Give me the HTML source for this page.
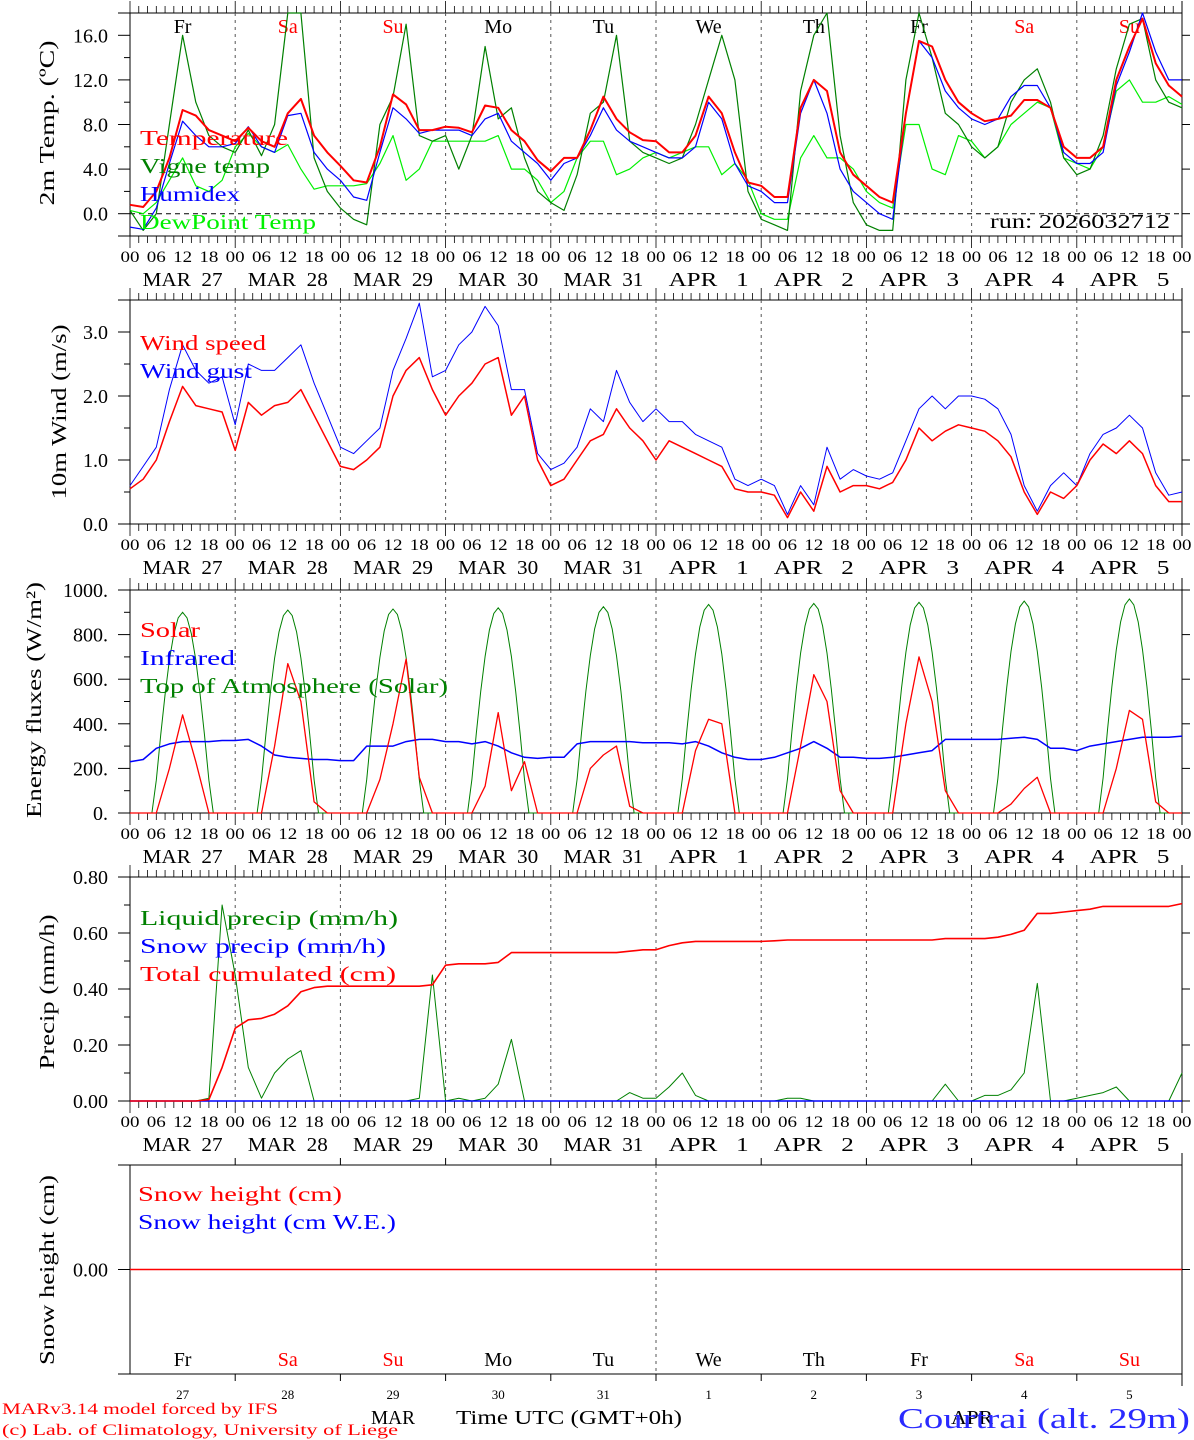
<!DOCTYPE html>
<html><head><meta charset="utf-8"><style>
html,body{margin:0;padding:0;background:#fff;}
svg{display:block;font-family:"Liberation Serif",serif;}
text{white-space:pre;}
</style></head><body>
<svg id="chart" width="1194" height="1440" viewBox="0 0 1194 1440" xmlns="http://www.w3.org/2000/svg" xml:space="preserve"></svg>
<script>
// ---- data (3-hourly, from MAR 27 00 UTC to APR 6 00 UTC, 81 values) ----
const dayLabels = ["MAR  27","MAR  28","MAR  29","MAR  30","MAR  31","APR   1","APR   2","APR   3","APR   4","APR   5"];
const dayNames = ["Fr","Sa","Su","Mo","Tu","We","Th","Fr","Sa","Su"];
const dayNums = ["27","28","29","30","31","1","2","3","4","5"];
const hourTicks = ["00","06","12","18"];

const temperature = [0.8,0.6,2,5,9.3,8.8,7.5,7, 6.5,7.7,6.5,6,9,10.3,7,5.5, 4.3,3,2.8,6,10.7,9.8,7.5,7.5, 7.8,7.7,7.3,9.7,9.5,7.5,6.5,4.8, 3.8,5,5,7.5,10.5,8.5,7.3,6.6, 6.5,5.5,5.5,7,10.5,9,5.5,2.8, 2.5,1.5,1.5,9.5,12,11,5.5,3.5, 2.5,1.5,1,9,15.5,15,12,10, 9,8.3,8.5,8.8,10.2,10.2,9.5,6, 5,5,6,12,15,17.5,13.5,11.5,10.5];
const vigneTemp = [0.3,-1.5,0,8,16,10,7,6, 5.5,7.5,5.2,8,18,18,5,2, 0.5,-0.5,-1,8,10.5,17,7,6.5, 7,4,7,15,8.5,9.5,5,2, 1,0.3,3.5,9,10,16,6.5,5.5, 5,4.5,5,8,12,16,12,2, -0.5,-1,-1.5,11,16,18,7,1, -1,-1.5,-1.5,12,18,14,9,8, 6,5,6,10,12,13,10,5, 3.5,4,7,13,17,17.5,12,10,9.5];
const humidex = [-1.2,-1.4,0.5,4.5,8.3,7,6,6, 6.3,7.8,6,5.5,8.8,9,5.5,4, 3,1.5,1.2,5.5,9.5,8.5,7.2,7.5, 7.5,7.5,7,8.5,9,6.5,5.5,4.5, 3,4.5,5,7,9.5,7.5,6.5,6, 5.5,5,5,6,10,8.5,4.5,2.5, 2,1,1,9,12,9,4,2, 1,0,-0.5,9,15.5,14,11,9.5, 8.5,8,8.5,10.5,11.5,11.5,9.5,5.5, 4.5,4.5,5.5,11.5,14.5,18,14.5,12,12];
const dewPoint = [0.3,0,1,3,5,2.5,2,3, 6,7.2,6,5.5,6.2,4,2.2,2.5, 2.5,2.5,2.7,4.5,7,3,4,6.5, 6.5,6.5,6.5,6.5,7,4,4,3, 1,2,5,6.5,6.5,3.5,4,5, 5.5,5,5.5,6,6,3.5,4.5,3, 0,-0.5,-0.5,5,7,5,5,4, 2,1,0.5,8,8,4,3.5,7, 6.5,5,6,8,9,10,9.5,5, 4.5,4,6,11,12,10,10,10.5,9.8];

const windSpeed = [0.55,0.7,1.0,1.6,2.15,1.85,1.8,1.75, 1.15,1.9,1.7,1.85,1.9,2.1,1.7,1.3, 0.9,0.85,1.0,1.2,2.0,2.4,2.6,2.1, 1.7,2.0,2.2,2.5,2.6,1.7,2.0,1.0, 0.6,0.7,1.0,1.3,1.4,1.8,1.5,1.3, 1.0,1.3,1.2,1.1,1.0,0.9,0.55,0.5, 0.5,0.45,0.1,0.5,0.2,0.9,0.5,0.6, 0.6,0.55,0.65,1.0,1.5,1.3,1.45,1.55, 1.5,1.45,1.3,1.05,0.5,0.15,0.5,0.4, 0.6,1.0,1.25,1.1,1.3,1.1,0.6,0.35,0.35];
const windGust = [0.6,0.9,1.2,2.1,2.8,2.4,2.2,2.3, 1.55,2.5,2.4,2.4,2.6,2.8,2.2,1.7, 1.2,1.1,1.3,1.5,2.4,2.9,3.45,2.3, 2.4,2.8,3.0,3.4,3.1,2.1,2.1,1.1, 0.85,0.95,1.2,1.8,1.6,2.4,1.9,1.6, 1.8,1.6,1.6,1.4,1.3,1.2,0.7,0.6, 0.7,0.6,0.15,0.6,0.3,1.2,0.7,0.85, 0.75,0.7,0.8,1.3,1.8,2.0,1.8,2.0, 2.0,1.95,1.8,1.4,0.6,0.2,0.6,0.8, 0.6,1.1,1.4,1.5,1.7,1.5,0.8,0.45,0.5];

const solar = [0,0,0,200,440,230,0,0, 0,0,0,300,670,500,50,0, 0,0,0,150,400,690,160,0, 0,0,0,120,450,100,230,0, 0,0,0,200,260,300,30,0, 0,0,0,280,420,400,0,0, 0,0,0,300,620,500,100,0, 0,0,0,400,700,500,100,0, 0,0,0,40,110,160,0,0, 0,0,0,200,460,420,50,0,0];
const infrared = [230,240,290,310,320,320,320,325, 325,330,300,260,250,245,240,240, 235,235,300,300,300,320,330,330, 320,320,310,320,300,270,250,245, 250,250,310,320,320,320,320,315, 315,315,310,320,300,270,250,240, 240,250,270,290,320,290,250,250, 245,245,250,260,270,280,330,330, 330,330,330,335,340,330,290,290, 280,300,310,320,330,340,340,340,345];
const toaPeak = [900,910,915,920,925,935,940,945,950,960];

const liquidPrecip = [0,0,0,0,0,0,0.01,0.7, 0.45,0.12,0.01,0.1,0.15,0.18,0,0, 0,0,0,0,0,0,0.01,0.45, 0,0.01,0,0.01,0.06,0.22,0,0, 0,0,0,0,0,0,0.03,0.01, 0.01,0.05,0.1,0.02,0,0,0,0, 0,0,0.01,0.01,0,0,0,0, 0,0,0,0,0,0,0.06,0, 0,0.02,0.02,0.04,0.1,0.42,0,0, 0.01,0.02,0.03,0.05,0,0,0,0,0.1];
const snowPrecip = new Array(81).fill(0);
const totalCum = [0,0,0,0,0,0,0.005,0.12, 0.26,0.29,0.295,0.31,0.34,0.39,0.405,0.41, 0.41,0.41,0.41,0.41,0.41,0.41,0.41,0.415, 0.485,0.49,0.49,0.49,0.495,0.53,0.53,0.53, 0.53,0.53,0.53,0.53,0.53,0.53,0.535,0.54, 0.54,0.555,0.565,0.57,0.57,0.57,0.57,0.57, 0.57,0.572,0.575,0.575,0.575,0.575,0.575,0.575, 0.575,0.575,0.575,0.575,0.575,0.575,0.58,0.58, 0.58,0.58,0.585,0.595,0.61,0.67,0.67,0.675, 0.68,0.685,0.695,0.695,0.695,0.695,0.695,0.695,0.705];
const snowHeight = new Array(81).fill(0);

// ---- drawing ----
const svg = document.getElementById('chart');
const NS = "http://www.w3.org/2000/svg";
const X0 = 130, X1 = 1182, NSTEP = 80;
function x(i){ return X0 + (X1 - X0) * i / NSTEP; }
function xh(h){ return X0 + (X1 - X0) * h / 240; }
function el(tag, attrs, parent){
  const e = document.createElementNS(NS, tag);
  for (const k in attrs) e.setAttribute(k, attrs[k]);
  (parent || svg).appendChild(e);
  return e;
}
function txt(xx, yy, s, size, color, anchor, len, parent){
  const t = el('text', {x:xx, y:yy, 'font-size':size, fill:color, 'text-anchor':anchor||'start'}, parent);
  if (len) { t.setAttribute('textLength', len); t.setAttribute('lengthAdjust','spacingAndGlyphs'); }
  t.textContent = s;
  return t;
}
function line(x1,y1,x2,y2,stroke,w,dash,parent){
  const l = el('line',{x1:x1,y1:y1,x2:x2,y2:y2,stroke:stroke,'stroke-width':w||1}, parent);
  if (dash) l.setAttribute('stroke-dasharray', dash);
  return l;
}
function series(vals, yf, color, w, name, parent){
  let d = '';
  vals.forEach((v,i)=>{ d += (i?'L':'M') + x(i).toFixed(1) + ',' + yf(v).toFixed(1); });
  const p = el('path',{d:d, fill:'none', stroke:color, 'stroke-width':w||1, 'stroke-linejoin':'round'}, parent);
  
  
  return p;
}

function panel(cfg){
  const g = el('g', {});
  
  
  const top = cfg.top, bot = cfg.bot;
  const yf = v => bot - (v - cfg.min) / (cfg.max - cfg.min) * (bot - top);
  line(118, top, X1, top, '#000', 1, null, g);
  line(118, bot, X1, bot, '#000', 1, null, g);
  line(X0, top, X0, bot, '#000', 1, null, g);
  line(X1, top-12, X1, bot+12, '#000', 1, null, g);
  if (cfg.hourTicks){
    for (let h=0; h<=240; h+=2){
      const xx = xh(h), len = (h%24===0)?12:7;
      line(xx, top-len, xx, top, '#000', 0.8, null, g);
      line(xx, bot, xx, bot+len, '#000', 0.8, null, g);
    }
    for (let d=1; d<10; d++) line(xh(d*24), top, xh(d*24), bot, '#555', 1, '3,4', g);
  } else {
    for (let d=1; d<10; d++){
      line(xh(d*24), top-7, xh(d*24), top, '#000', 1, null, g);
      line(xh(d*24), bot, xh(d*24), bot+7, '#000', 1, null, g);
    }
  }
  cfg.yMinor.forEach(v=>{ line(X0-6, yf(v), X0, yf(v), '#000', 1, null, g); });
  cfg.yTicks.forEach((v,i)=>{
    line(X0-12, yf(v), X0, yf(v), '#000', 1, null, g);
    line(X1, yf(v), X1+8, yf(v), '#000', 1, null, g);
    txt(108, yf(v)+7, cfg.yLabels[i], 20, '#000', 'end', null, g);
  });
  const t = txt(0,0,cfg.title,21,'#000','middle',cfg.titleLen,g);
  t.setAttribute('transform','translate('+cfg.titleX+','+cfg.titleY+') rotate(-90)');
  if (cfg.hourTicks){
    for (let h=0; h<=240; h+=6){
      txt(xh(h), bot+26, hourTicks[(h/6)%4], 16, '#000', 'middle', 19, g);
    }
    dayLabels.forEach((s,d)=>{
      txt(xh(d*24+12), bot+50, s, 20, '#000', 'middle', 80, g);
    });
  }
  return {g:g, yf:yf};
}

// Panel 1
const p1 = panel({name:'temperature-panel', top:13, bot:236, min:-2, max:18, yTicks:[0,4,8,12,16], yLabels:['0.0','4.0','8.0','12.0','16.0'], yMinor:[-2,2,6,10,14,18], title:'2m Temp. (\u00BAC)', titleX:54, titleY:123, titleLen:165, hourTicks:true});
line(X0, p1.yf(0), X1, p1.yf(0), '#000', 1, '5,4', p1.g);
dayNames.forEach((n,d)=>{
  const c = (n==='Sa'||n==='Su') ? '#f00' : '#000';
  const t = txt(xh(d*24+12), 33, n, 20, c, 'middle', null, p1.g);
  
  
});
series(dewPoint, p1.yf, '#00f000', 1.2, 'dewpoint-line', p1.g);
series(vigneTemp, p1.yf, '#008000', 1.2, 'vigne-temp-line', p1.g);
series(humidex, p1.yf, '#0000ff', 1.2, 'humidex-line', p1.g);
series(temperature, p1.yf, '#ff0000', 2, 'temperature-line', p1.g);
[['Temperature','#f00',145,148],['Vigne temp','#008000',173,130],['Humidex','#00f',201,100],['DewPoint Temp','#00f000',229,176]].forEach(a=>{
  const t = txt(140,a[2],a[0],21,a[1],'start',a[3],p1.g);
  
  
});
txt(1170, 228, 'run: 2026032712', 20, '#000', 'end', 180, p1.g);

// Panel 2
const p2 = panel({name:'wind-panel', top:300, bot:524, min:0, max:3.5, yTicks:[0,1,2,3], yLabels:['0.0','1.0','2.0','3.0'], yMinor:[0.5,1.5,2.5,3.5], title:'10m Wind (m/s)', titleX:66, titleY:412, titleLen:175, hourTicks:true});
series(windGust, p2.yf, '#0000ff', 1, 'wind-gust-line', p2.g);
series(windSpeed, p2.yf, '#ff0000', 1.5, 'wind-speed-line', p2.g);
[['Wind speed','#f00',350,126],['Wind gust','#00f',378,112]].forEach(a=>{
  const t = txt(140,a[2],a[0],21,a[1],'start',a[3],p2.g);
  
  
});

// Panel 3
const p3 = panel({name:'energy-panel', top:590, bot:813, min:0, max:1000, yTicks:[0,200,400,600,800,1000], yLabels:['0.','200.','400.','600.','800.','1000.'], yMinor:[100,300,500,700,900], title:'Energy fluxes (W/m\u00B2)', titleX:41, titleY:700, titleLen:236, hourTicks:true});
(function(){
  let d = '';
  for (let h=0; h<=240; h++){
    const day = Math.min(9, Math.floor(h/24)), hr = h%24;
    const s = Math.sin(Math.PI*(hr-5.3)/13.4);
    const v = (hr>5.3 && hr<18.7) ? toaPeak[day]*Math.max(0,s) : 0;
    d += (h?'L':'M') + xh(h).toFixed(1) + ',' + p3.yf(v).toFixed(1);
  }
  const p = el('path',{d:d, fill:'none', stroke:'#008000','stroke-width':1}, p3.g);
  
  
})();
series(infrared, p3.yf, '#0000ff', 1.5, 'infrared-line', p3.g);
series(solar, p3.yf, '#ff0000', 1.3, 'solar-line', p3.g);
[['Solar','#f00',637,60],['Infrared','#00f',665,95],['Top of Atmosphere (Solar)','#008000',693,308]].forEach(a=>{
  const t = txt(140,a[2],a[0],21,a[1],'start',a[3],p3.g);
  
  
});

// Panel 4
const p4 = panel({name:'precip-panel', top:877, bot:1101, min:0, max:0.8, yTicks:[0,0.2,0.4,0.6,0.8], yLabels:['0.00','0.20','0.40','0.60','0.80'], yMinor:[0.1,0.3,0.5,0.7], title:'Precip (mm/h)', titleX:54, titleY:992, titleLen:155, hourTicks:true});
series(liquidPrecip, p4.yf, '#008000', 1, 'liquid-precip-line', p4.g);
series(snowPrecip, p4.yf, '#0000ff', 1.5, 'snow-precip-line', p4.g);
series(totalCum, p4.yf, '#ff0000', 1.6, 'total-cumulated-line', p4.g);
[['Liquid precip (mm/h)','#008000',925,258],['Snow precip (mm/h)','#00f',953,246],['Total cumulated (cm)','#f00',981,256]].forEach(a=>{
  const t = txt(140,a[2],a[0],21,a[1],'start',a[3],p4.g);
  
  
});

// Panel 5
const p5 = panel({name:'snow-panel', top:1165, bot:1374, min:-1, max:1, yTicks:[0], yLabels:['0.00'], yMinor:[], title:'Snow height (cm)', titleX:54, titleY:1270, titleLen:190, hourTicks:false});
line(xh(120), 1165, xh(120), 1374, '#555', 1, '3,4', p5.g);
series(snowHeight, p5.yf, '#ff0000', 1.5, 'snow-height-line', p5.g);
[['Snow height (cm)','#f00',1201,204],['Snow height (cm W.E.)','#00f',1229,258]].forEach(a=>{
  const t = txt(138,a[2],a[0],21,a[1],'start',a[3],p5.g);
  
  
});
dayNames.forEach((n,d)=>{
  const c = (n==='Sa'||n==='Su') ? '#f00' : '#000';
  const t = txt(xh(d*24+12), 1366, n, 20, c, 'middle', null, p5.g);
  
  
});
dayNums.forEach((n,d)=>{ txt(xh(d*24+12), 1399, n, 13, '#000', 'middle', null, p5.g); });
txt(393, 1424, 'MAR', 20, '#000', 'middle', 44);
txt(456, 1424, 'Time UTC (GMT+0h)', 20, '#000', 'start', 226);
txt(972, 1424, 'APR', 20, '#000', 'middle', 42);
const loc = txt(1190, 1428, 'Courtrai (alt. 29m)', 29, '#2a2aff', 'end', 292);


const f1 = txt(2, 1414, 'MARv3.14 model forced by IFS', 16, '#f00', 'start', 276);


const f2 = txt(2, 1435, '(c) Lab. of Climatology, University of Liege', 16, '#f00', 'start', 396);


</script>
</body></html>
